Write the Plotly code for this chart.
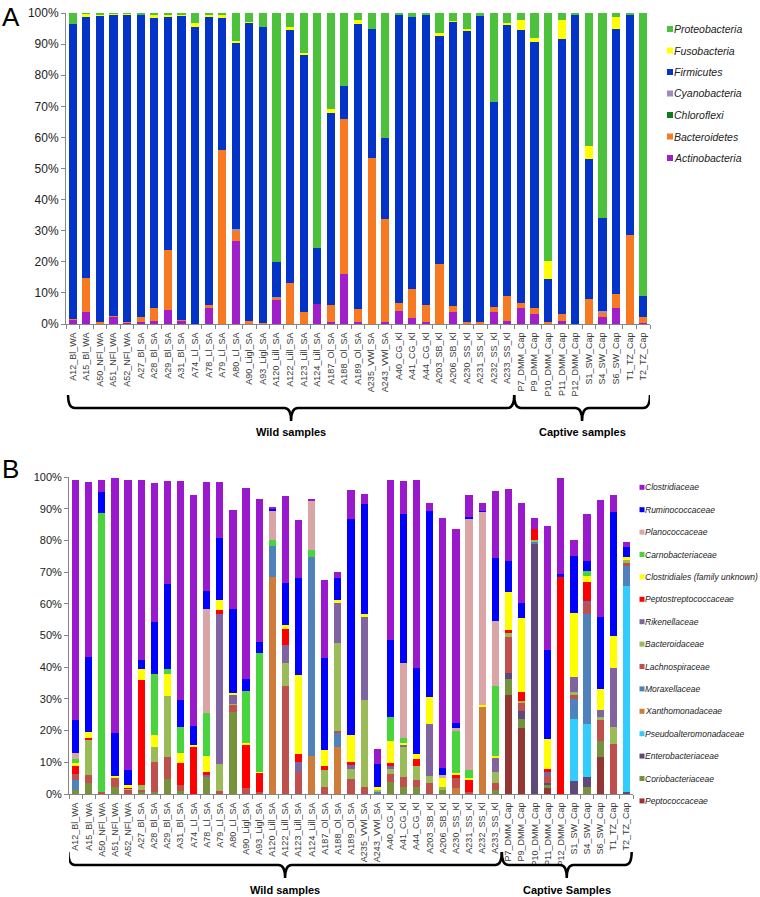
import plotly.graph_objects as go

W, H = 760, 897
FONT = "Arial, Liberation Sans, sans-serif"

samples = ["A12_Bl_WA", "A15_Bl_WA", "A50_NFl_WA", "A51_NFl_WA", "A52_NFl_WA",
           "A27_Bl_SA", "A28_Bl_SA", "A29_Bl_SA", "A31_Bl_SA", "A74_Ll_SA",
           "A78_Ll_SA", "A79_Ll_SA", "A80_Ll_SA", "A90_Ligl_SA", "A93_Ligl_SA",
           "A120_Lill_SA", "A122_Lill_SA", "A123_Lill_SA", "A124_Lill_SA", "A187_Ol_SA",
           "A188_Ol_SA", "A189_Ol_SA", "A235_VWl_SA", "A243_VWl_SA", "A40_CG_Kl",
           "A41_CG_Kl", "A44_CG_Kl", "A203_SB_Kl", "A206_SB_Kl", "A230_SS_Kl",
           "A231_SS_Kl", "A232_SS_Kl", "A233_SS_Kl", "P7_DMM_Cap", "P9_DMM_Cap",
           "P10_DMM_Cap", "P11_DMM_Cap", "P12_DMM_Cap", "S1_SW_Cap", "S4_SW_Cap",
           "S6_SW_Cap", "T1_TZ_Cap", "T2_TZ_Cap"]
n_wild = 33
group_labels_a = ["Wild samples", "Captive samples"]
group_labels_b = ["Wild samples", "Captive Samples"]
y_ticks = [0, 10, 20, 30, 40, 50, 60, 70, 80, 90, 100]

# ---- panel A: phyla (% of reads), bottom of stack first ----
actino = [1.3, 3.7, 0.3, 2.4, 0.4, 0.6, 1.0, 4.5, 1.1, 0.1,
          5.0, 0, 26.7, 0, 0, 7.9, 0, 0, 6.3, 0.5,
          16.1, 0.6, 0, 0.6, 4.3, 2.0, 0.8, 0, 3.8, 0,
          0.2, 3.8, 1.1, 5.0, 3.2, 0, 1.1, 0, 0, 2.1,
          5.0, 0, 0.4]
bactero = [0.2, 11.2, 0.4, 0.1, 0.4, 1.5, 4.1, 19.3, 0.3, 0,
           1.1, 55.9, 3.5, 1.0, 0.2, 0.5, 13.1, 3.8, 0, 5.6,
           49.8, 4.2, 53.5, 33.3, 2.3, 9.3, 5.4, 19.2, 2.0, 0.8,
           0.3, 1.8, 8.0, 1.6, 2.1, 0.8, 2.1, 0, 8.0, 1.6,
           4.8, 28.6, 1.7]
chloro = [0, 0, 0, 0, 0, 0, 0, 0, 0, 0,
          0, 0, 0, 0, 0, 0, 0, 0, 0, 0,
          0, 0, 0, 0, 0, 0, 0, 0, 0, 0,
          0, 0, 0, 0, 0, 0, 0, 0, 0, 0,
          0, 0, 0]
cyano = [0, 0, 0, 0, 0, 0, 0, 0, 0, 0,
         0, 0, 0.3, 0, 0, 0.2, 0, 0, 0, 0,
         0, 0, 0, 0, 0, 0, 0, 0, 0, 0,
         0, 0, 0, 0, 0, 0, 0, 0, 0, 0.4,
         0, 0, 0]
firmi = [95.0, 83.9, 98.4, 97.1, 98.7, 97.3, 93.2, 75.0, 97.7, 95.5,
         92.7, 42.4, 60.0, 95.9, 95.4, 11.4, 81.4, 83.0, 18.0, 61.6,
         10.6, 91.7, 41.2, 26.0, 92.8, 87.5, 93.3, 73.5, 91.4, 93.7,
         98.5, 65.7, 87.3, 87.9, 85.5, 13.7, 88.3, 99.4, 45.0, 30.0,
         84.9, 70.7, 7.0]
fuso = [0, 1.0, 0.2, 0.1, 0.4, 0, 1.3, 0.8, 0.5, 1.1,
        0.5, 1.3, 0.5, 0.3, 0, 0, 1.1, 0.4, 0, 1.5,
        0, 1.3, 0, 0, 0, 0, 0, 0.8, 0.3, 0.5,
        0, 0, 0.5, 3.2, 1.3, 5.8, 6.2, 0, 4.3, 0,
        3.9, 0, 0]
proteo = [3.5, 0.2, 0.7, 0.3, 0.1, 0.6, 0.4, 0.4, 0.4, 3.3,
          0.7, 0.4, 9.0, 2.8, 4.4, 80.0, 4.4, 12.8, 75.7, 30.8,
          23.5, 2.2, 5.3, 40.1, 0.6, 1.2, 0.6, 6.5, 2.5, 5.0,
          1.0, 28.7, 3.1, 2.3, 7.9, 79.7, 2.3, 0.6, 42.7, 65.9,
          1.4, 0.7, 90.9]

phyla = ["Actinobacteria", "Bacteroidetes", "Chloroflexi", "Cyanobacteria",
         "Firmicutes", "Fusobacteria", "Proteobacteria"]
phyla_vals = [actino, bactero, chloro, cyano, firmi, fuso, proteo]
phyla_colors = ["#A01FCB", "#F77A22", "#0C7A1E", "#9E8BC6",
                "#0433C8", "#FFFF00", "#4CC23C"]

# ---- panel B: families (% of reads), bottom of stack first ----
pepc = [0, 0, 0, 0, 0, 0, 0, 0, 0, 0,
        0, 0, 0, 0, 0, 0, 0, 0, 0, 0,
        0, 0, 0, 0, 0, 0, 0, 0, 0, 0,
        0, 0, 0, 31.2, 20.7, 0, 1.8, 0, 0, 0,
        11.6, 0, 0]
corio = [1.2, 3.5, 0, 2.1, 0, 0.6, 0.7, 4.6, 0.9, 0,
         5.3, 0, 26.0, 0, 0, 0, 0, 0, 0, 0,
         0, 0, 0, 0, 3.9, 2.1, 2.1, 0, 1.3, 0,
         0, 0, 1.3, 5.2, 3.1, 0, 1.0, 0, 0, 2.3,
         5.2, 0, 0]
entero = [0, 0, 0, 0, 0, 0, 0, 0, 0, 0,
          0, 0, 0, 0, 0, 0, 0, 0, 0, 0,
          0, 0, 0, 0, 0, 0, 0, 0, 0, 0,
          0, 0, 0, 1.8, 2.5, 79.0, 0.7, 0, 4.2, 3.0,
          0, 0, 0.7]
pseudo = [0, 0, 0, 0, 0, 0, 0, 0, 0, 0,
          0, 0, 0, 0, 0, 0, 0, 0, 0, 0,
          0, 0, 0, 0, 0, 0, 0, 0, 0, 0,
          0, 0, 0, 0, 0, 0, 0, 0, 19.6, 16.8,
          0, 0, 64.8]
xantho = [0, 0, 0, 0, 0, 0, 0, 0, 0, 0,
          0, 0, 0, 0, 0, 68.3, 0, 0, 12.0, 0,
          14.9, 0, 0, 0, 0, 0, 0, 0, 0, 1.8,
          0, 27.3, 0, 0, 0, 0, 0, 0, 0, 0,
          0, 0, 0]
morax = [3.3, 0, 0, 0, 0, 0, 0, 0, 0, 0,
         0, 0, 0, 0, 0, 9.9, 0, 0, 62.8, 0,
         4.2, 0, 0, 0.7, 0, 0, 0, 0, 0, 0,
         0, 0, 0, 0, 0, 0.5, 0, 0, 6.3, 34.6,
         0, 0, 6.3]
lachno = [1.9, 2.4, 0.6, 2.8, 1.3, 0.7, 9.5, 7.2, 1.9, 0,
          0, 0.9, 2.1, 1.8, 0.7, 0, 34.0, 7.0, 0, 2.1,
          0.9, 4.6, 2.1, 0, 2.4, 3.4, 2.3, 3.4, 0, 3.1,
          0.7, 0, 2.3, 11.4, 2.3, 0, 2.1, 0, 1.1, 3.4,
          6.5, 15.8, 1.1]
bacter = [0, 11.2, 0, 0, 0.4, 1.5, 4.5, 19.1, 0, 0,
          0, 8.6, 0.3, 0, 0, 0, 7.4, 0, 0, 5.5,
          27.7, 3.2, 27.7, 0.7, 1.5, 9.2, 4.4, 2.3, 0.8, 0,
          0, 0, 3.4, 1.2, 0.8, 0.5, 0, 0, 1.0, 0,
          1.1, 5.4, 0.8]
riken = [0, 0, 0, 0, 0, 0, 0, 0, 0, 0,
         0.7, 47.4, 2.8, 0, 0, 0, 5.6, 3.2, 0, 0,
         12.6, 1.3, 26.1, 0, 1.0, 0.8, 0, 16.4, 0, 0,
         0, 0, 4.3, 0, 0, 0, 1.3, 0, 4.6, 0.8,
         2.1, 18.4, 0]
pstrep = [2.3, 0.6, 0, 0, 0.5, 33.3, 0, 0, 7.1, 14.7,
          1.0, 1.1, 0, 13.7, 6.0, 0, 5.2, 2.4, 0, 1.2,
          0, 1.1, 0, 0, 1.1, 0, 2.1, 0, 0, 1.1,
          3.9, 0, 0, 0.8, 2.8, 3.7, 1.1, 68.7, 0, 6.0,
          0, 0, 0]
clostunk = [1.1, 1.9, 0, 0.8, 0.5, 3.2, 3.9, 7.1, 3.1, 0.8,
            5.0, 3.1, 0.8, 0.7, 0.3, 0, 1.1, 24.9, 0, 5.1,
            1.0, 8.4, 1.0, 0.8, 6.9, 0.7, 1.7, 8.6, 2.8, 0.5,
            0.6, 0.7, 0.7, 12.1, 23.2, 0, 9.4, 0, 20.3, 1.8,
            6.5, 10.2, 1.1]
carno = [1.1, 0, 88.1, 0, 0, 0, 19.4, 1.3, 8.2, 0,
         13.7, 0, 0, 16.4, 37.5, 1.8, 0, 0, 2.1, 0,
         0, 0, 0, 0, 7.4, 1.4, 0, 0, 0, 13.4,
         2.4, 0, 22.0, 0, 0, 0, 0, 0, 0, 1.7,
         0, 0, 0]
plano = [2.0, 0, 0, 0, 0, 0, 0, 0, 0, 0,
         32.8, 0, 0, 0, 0, 9.3, 0, 0, 15.7, 0,
         0, 0, 0, 0, 0, 23.8, 0, 0, 1.1, 0.8,
         79.3, 61.0, 20.6, 0, 0, 0, 0, 0, 0, 0,
         0, 0, 0]
rumino = [10.3, 23.6, 6.6, 13.6, 4.8, 2.9, 16.3, 27.1, 8.5, 5.9,
          5.5, 19.7, 26.5, 3.8, 3.5, 0.7, 13.3, 30.5, 0, 28.9,
          6.7, 68.1, 34.7, 7.2, 24.5, 47.0, 27.0, 58.6, 2.1, 1.6,
          0.5, 0.3, 19.7, 9.8, 4.9, 0, 27.9, 0.6, 17.9, 3.1,
          22.9, 39.2, 3.1]
clostri = [76.0, 55.1, 3.6, 80.4, 91.7, 57.0, 43.8, 32.3, 69.0, 73.0,
           34.4, 17.6, 31.2, 60.1, 45.2, 0.5, 27.4, 18.3, 0.5, 24.6,
           2.1, 9.3, 2.9, 4.9, 50.2, 10.3, 59.6, 2.5, 79.1, 61.2,
           6.8, 2.5, 21.3, 22.6, 31.6, 3.5, 39.1, 30.4, 5.0, 14.7,
           37.0, 5.2, 1.6]

families = ["Peptococcaceae", "Coriobacteriaceae", "Enterobacteriaceae",
            "Pseudoalteromonadaceae", "Xanthomonadaceae", "Moraxellaceae",
            "Lachnospiraceae", "Bacteroidaceae", "Rikenellaceae",
            "Peptostreptococcaceae", "Clostridiales (family unknown)",
            "Carnobacteriaceae", "Planococcaceae", "Ruminococcaceae", "Clostridiaceae"]
family_vals = [pepc, corio, entero, pseudo, xantho, morax, lachno, bacter, riken,
               pstrep, clostunk, carno, plano, rumino, clostri]
family_colors = ["#943634", "#76923C", "#5F497A", "#33CCFF", "#CF7C3A", "#4F81BD",
                 "#C0504D", "#9BBB59", "#8064A2", "#FF0000", "#FFFF00",
                 "#47D43C", "#DAA6A5", "#0000FF", "#9A19CC"]

idx = list(range(len(samples)))


def fx(px):
    return px / W


def fy(py):
    return 1 - py / H


fig = go.Figure()

for name, vals, col in zip(phyla, phyla_vals, phyla_colors):
    fig.add_trace(go.Bar(x=idx, y=vals, name=name, marker_color=col,
                         marker_line_width=0, width=0.6, showlegend=False,
                         xaxis="x", yaxis="y"))

for name, vals, col in zip(families, family_vals, family_colors):
    fig.add_trace(go.Bar(x=idx, y=vals, name=name, marker_color=col,
                         marker_line_width=0, width=0.55, showlegend=False,
                         xaxis="x2", yaxis="y2"))

axis_col = "#868686"
xcommon = dict(range=[-0.5, len(samples) - 0.5], tickmode="array", tickvals=idx,
               ticktext=samples, tickangle=-90, tickfont=dict(size=9, color="#3a3a3a"),
               ticks="", ticklabelstandoff=4, showline=True, linecolor=axis_col,
               linewidth=1, showgrid=False, zeroline=False, automargin=False,
               minor=dict(ticks="outside", ticklen=4, tickcolor=axis_col,
                          tickvals=[i - 0.5 for i in range(len(samples) + 1)]))
ycommon = dict(range=[0, 100], tickmode="array", tickvals=y_ticks,
               ticktext=[f"{v}%" for v in y_ticks], ticks="outside", ticklen=4,
               tickcolor=axis_col, showline=True, linecolor=axis_col, linewidth=1,
               showgrid=False, zeroline=False, automargin=False)

fig.update_layout(
    width=W, height=H, barmode="stack",
    paper_bgcolor="white", plot_bgcolor="white",
    margin=dict(l=0, r=0, t=0, b=0),
    font=dict(family=FONT, color="#222222"),
    showlegend=False,
    xaxis=dict(domain=[fx(66), fx(650)], anchor="y", **xcommon),
    yaxis=dict(domain=[fy(324), fy(13)], anchor="x", tickfont=dict(size=12), **ycommon),
    xaxis2=dict(domain=[fx(69), fx(633)], anchor="y2", **xcommon),
    yaxis2=dict(domain=[fy(794), fy(477)], anchor="x2", tickfont=dict(size=11), **ycommon),
)


def brace(x0, x1, ytop, yline, ytip, r=0.5):
    xc = (x0 + x1) / 2
    return (f"M{x0},{ytop} Q{x0},{yline} {x0 + r},{yline} L{xc - r},{yline} "
            f"Q{xc},{yline} {xc},{ytip} Q{xc},{yline} {xc + r},{yline} "
            f"L{x1 - r},{yline} Q{x1},{yline} {x1},{ytop}")


n = len(samples)
spans_a = [(-0.35, n_wild - 0.5), (n_wild - 0.5, n - 0.5)]
spans_b = [(-0.55, n_wild - 0.5), (n_wild - 0.5, n - 0.6)]
for xref, spans, labels, (ytop, yline, ytip, ytxt) in [
        ("x", spans_a, group_labels_a, (395, 408, 421, 432)),
        ("x2", spans_b, group_labels_b, (852, 865, 878, 890))]:
    for (x0, x1), lab in zip(spans, labels):
        fig.add_shape(type="path", xref=xref, yref="paper",
                      path=brace(x0, x1, fy(ytop), fy(yline), fy(ytip)),
                      line=dict(color="black", width=2.5))
        fig.add_annotation(x=(x0 + x1) / 2, y=fy(ytxt), xref=xref, yref="paper",
                           text=f"<b>{lab}</b>", showarrow=False,
                           font=dict(size=11, color="black"), yanchor="middle")

# panel letters
fig.add_annotation(x=fx(0), y=fy(0), xref="paper", yref="paper", text="A",
                   showarrow=False, xanchor="left", yanchor="top",
                   font=dict(size=26, color="black"))
fig.add_annotation(x=fx(0), y=fy(452), xref="paper", yref="paper", text="B",
                   showarrow=False, xanchor="left", yanchor="top",
                   font=dict(size=26, color="black"))

# legends (top entry = top of stack)
for i, (name, col) in enumerate(zip(phyla[::-1], phyla_colors[::-1])):
    yc = 29 + i * 21.5
    fig.add_shape(type="rect", xref="paper", yref="paper",
                  x0=fx(667), x1=fx(673), y0=fy(yc + 3), y1=fy(yc - 3),
                  fillcolor=col, line_width=0)
    fig.add_annotation(x=fx(672), y=fy(yc), xref="paper", yref="paper",
                       text=f"<i>{name}</i>", showarrow=False, xanchor="left",
                       yanchor="middle", font=dict(size=10.5, color="#222222"))

for i, (name, col) in enumerate(zip(families[::-1], family_colors[::-1])):
    yc = 487.3 + i * 22.4
    fig.add_shape(type="rect", xref="paper", yref="paper",
                  x0=fx(639.5), x1=fx(644.5), y0=fy(yc + 2.5), y1=fy(yc - 2.5),
                  fillcolor=col, line_width=0)
    fig.add_annotation(x=fx(643), y=fy(yc), xref="paper", yref="paper",
                       text=f"<i>{name}</i>", showarrow=False, xanchor="left",
                       yanchor="middle", font=dict(size=8.5, color="#222222"))

fig.write_html("out.html", config={"displayModeBar": False},
               post_script="document.body.style.margin='0px';")
